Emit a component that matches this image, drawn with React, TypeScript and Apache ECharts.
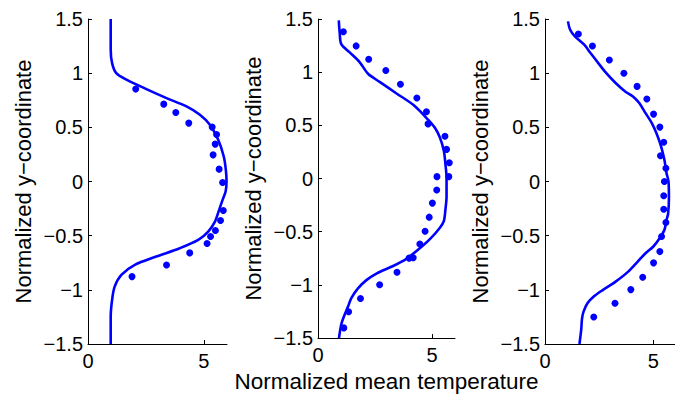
import React, { useEffect, useRef } from "react";
import * as echarts from "echarts";

// Axis tick values
const xTickValues = [0, 5];
const yTickValues = [-1.5, -1, -0.5, 0, 0.5, 1, 1.5];

// Panel 1: simulated profile (line) and measurements (dots)
const p1LineX = [0.98, 0.98, 1.04, 1.22, 1.66, 2.52, 3.39, 4.25, 4.83, 5.26, 5.62, 5.86, 5.95, 5.98, 5.94, 5.81, 5.66, 5.48, 5.19, 4.76, 3.96, 2.95, 2.02, 1.44, 1.15, 1.04, 0.98, 0.98];
const p1LineY = [1.5, 1.216, 1.093, 1.0, 0.94, 0.853, 0.77, 0.693, 0.616, 0.524, 0.385, 0.231, 0.108, 0, -0.092, -0.169, -0.262, -0.37, -0.462, -0.539, -0.616, -0.693, -0.77, -0.862, -0.97, -1.093, -1.247, -1.5];
const p1DotX = [2.06, 3.27, 3.79, 4.35, 5.36, 5.55, 5.49, 5.4, 5.66, 5.81, 5.84, 5.72, 5.5, 5.29, 5.14, 4.39, 3.39, 1.9];
const p1DotY = [0.853, 0.714, 0.637, 0.539, 0.502, 0.434, 0.345, 0.246, 0.114, -0.009, -0.268, -0.36, -0.453, -0.508, -0.573, -0.659, -0.77, -0.878];

// Panel 2
const p2LineX = [0.91, 0.95, 1.02, 1.39, 1.83, 2.19, 2.7, 3.44, 4.17, 4.82, 5.12, 5.34, 5.51, 5.58, 5.63, 5.63, 5.58, 5.51, 5.34, 4.9, 4.39, 3.87, 3.29, 2.56, 2.12, 1.75, 1.46, 1.32, 1.17, 1.02, 0.92];
const p2LineY = [1.487, 1.37, 1.263, 1.186, 1.093, 0.985, 0.909, 0.8, 0.693, 0.554, 0.477, 0.385, 0.262, 0.139, 0, -0.169, -0.293, -0.4, -0.462, -0.57, -0.668, -0.755, -0.822, -0.893, -0.955, -1.032, -1.124, -1.201, -1.278, -1.37, -1.5];
const p2DotX = [1.11, 1.67, 2.22, 2.97, 3.61, 4.33, 4.75, 4.82, 5.56, 5.63, 5.75, 5.21, 5.73, 5.2, 5.01, 4.87, 4.69, 4.46, 4.17, 3.99, 3.46, 2.7, 1.86, 1.34, 1.13];
const p2DotY = [1.38, 1.247, 1.121, 1.016, 0.887, 0.758, 0.628, 0.514, 0.397, 0.274, 0.148, 0.018, 0.018, -0.108, -0.231, -0.363, -0.496, -0.616, -0.745, -0.748, -0.881, -0.998, -1.127, -1.253, -1.404];

// Panel 3
const p3LineX = [1.06, 1.16, 1.38, 1.81, 2.1, 2.46, 2.83, 3.26, 3.7, 4.06, 4.35, 4.64, 4.93, 5.14, 5.36, 5.51, 5.61, 5.7, 5.72, 5.68, 5.61, 5.51, 5.29, 5.0, 4.64, 4.28, 3.84, 3.26, 2.68, 2.25, 1.96, 1.78, 1.71, 1.67, 1.59];
const p3LineY = [1.478, 1.401, 1.34, 1.263, 1.186, 1.093, 1.0, 0.909, 0.831, 0.785, 0.724, 0.631, 0.539, 0.447, 0.323, 0.2, 0.077, 0, -0.15, -0.3, -0.354, -0.447, -0.523, -0.6, -0.662, -0.739, -0.832, -0.924, -1.0, -1.062, -1.124, -1.201, -1.263, -1.37, -1.5];
const p3DotX = [1.54, 2.19, 2.97, 3.64, 4.25, 4.7, 5.01, 5.3, 5.48, 5.33, 5.58, 5.51, 5.48, 5.48, 5.58, 5.38, 5.3, 5.01, 4.51, 3.96, 3.23, 2.25];
const p3DotY = [1.361, 1.25, 1.121, 1.0, 0.878, 0.761, 0.622, 0.502, 0.363, 0.237, 0.123, 0, -0.132, -0.256, -0.379, -0.508, -0.647, -0.751, -0.884, -0.998, -1.124, -1.25];

const yAxisTitle = "Normalized y\u2212coordinate";
const xAxisTitle = "Normalized mean temperature";

const FONT = "'Liberation Sans', Arial, Helvetica, sans-serif";
const BLUE = "#0000ff";

const zip = (xs: number[], ys: number[]) => xs.map((x, i) => [x, ys[i]]);

export default function App() {
  const ref = useRef<HTMLDivElement>(null);

  useEffect(() => {
    if (!ref.current) return;
    const chart = echarts.init(ref.current, undefined, { renderer: "svg" });

    const grids = [
      { left: 88, top: 19, width: 139, height: 325 },
      { left: 318, top: 19, width: 137, height: 325 },
      { left: 545, top: 19, width: 138, height: 325 },
    ];

    const axisLineStyle = { color: "#000", width: 1 };

    const xAxes = grids.map((_, i) => ({
      type: "value",
      gridIndex: i,
      min: 0,
      max: 6,
      interval: 5,
      axisLine: { show: true, onZero: false, lineStyle: axisLineStyle },
      axisTick: { show: true, inside: true, length: 4, customValues: xTickValues, lineStyle: axisLineStyle },
      axisLabel: {
        customValues: xTickValues,
        color: "#000",
        fontSize: 20,
        fontFamily: FONT,
        margin: 7,
      },
      splitLine: { show: false },
      name: i === 1 ? xAxisTitle : "",
      nameLocation: "middle",
      nameGap: 27,
      nameTextStyle: { color: "#000", fontSize: 22.5, fontFamily: FONT },
    }));

    const yAxes = grids.map((_, i) => ({
      type: "value",
      gridIndex: i,
      min: -1.5,
      max: 1.5,
      interval: 0.5,
      axisLine: { show: true, onZero: false, lineStyle: axisLineStyle },
      axisTick: { show: true, inside: true, length: 4, customValues: yTickValues, lineStyle: axisLineStyle },
      axisLabel: {
        customValues: yTickValues,
        color: "#000",
        fontSize: 20,
        fontFamily: FONT,
        margin: 5,
        formatter: (v: number) => String(v).replace("-", "\u2212"),
      },
      splitLine: { show: false },
      name: yAxisTitle,
      nameLocation: "middle",
      nameGap: 54,
      nameRotate: 90,
      nameTextStyle: { color: "#000", fontSize: 22, fontFamily: FONT },
    }));

    const panels = [
      { lx: p1LineX, ly: p1LineY, dx: p1DotX, dy: p1DotY },
      { lx: p2LineX, ly: p2LineY, dx: p2DotX, dy: p2DotY },
      { lx: p3LineX, ly: p3LineY, dx: p3DotX, dy: p3DotY },
    ];

    const series: any[] = [];
    panels.forEach((p, i) => {
      series.push({
        type: "line",
        xAxisIndex: i,
        yAxisIndex: i,
        data: zip(p.lx, p.ly),
        showSymbol: false,
        smooth: 0.3,
        lineStyle: { color: BLUE, width: 2.6 },
        clip: false,
        z: 2,
      });
      series.push({
        type: "scatter",
        xAxisIndex: i,
        yAxisIndex: i,
        data: zip(p.dx, p.dy),
        symbol: "circle",
        symbolSize: 7,
        itemStyle: { color: BLUE, opacity: 1 },
        z: 3,
      });
    });

    chart.setOption({
      animation: false,
      backgroundColor: "#fff",
      grid: grids,
      xAxis: xAxes,
      yAxis: yAxes,
      series,
    });

    return () => chart.dispose();
  }, []);

  return (
    <div
      ref={ref}
      style={{ position: "fixed", left: 0, top: 0, width: 675, height: 398, background: "#fff" }}
    />
  );
}
